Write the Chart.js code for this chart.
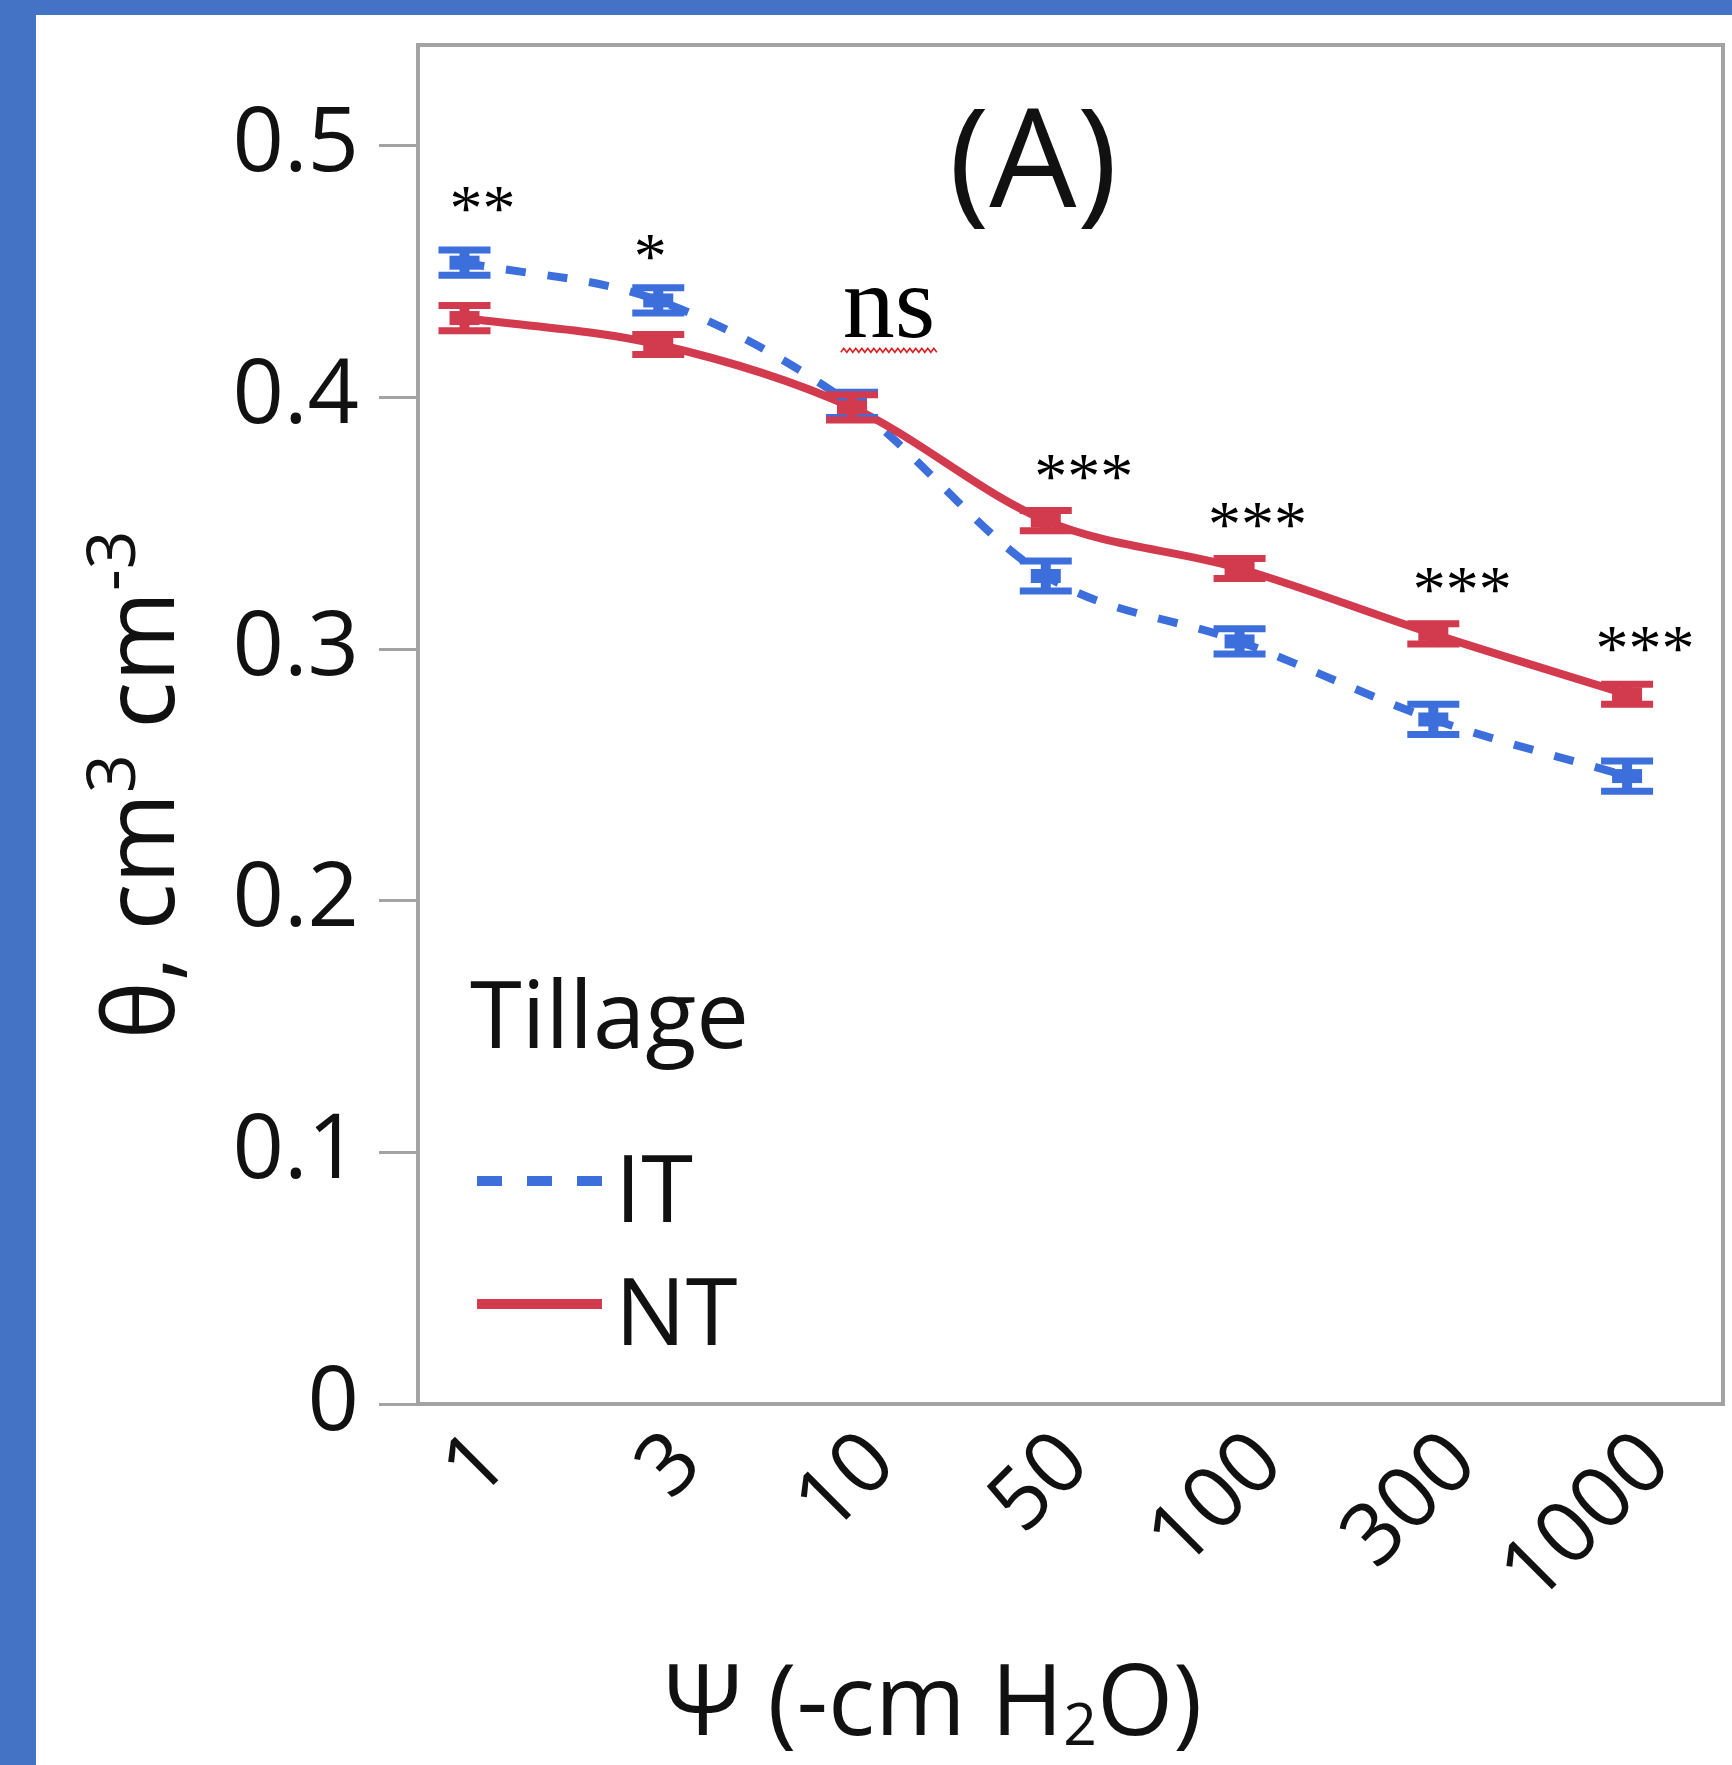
<!DOCTYPE html>
<html>
<head>
<meta charset="utf-8">
<script src="https://cdn.jsdelivr.net/npm/chart.js@4.4.1/dist/chart.umd.min.js"></script>
<style>
html, body { margin: 0; padding: 0; background: #fff; }
canvas { display: block; }
</style>
</head>
<body>
<canvas id="retentionChart" width="1732" height="1765"></canvas>
<script>
// Soil water retention by tillage (panel A)
const potentials = ['1', '3', '10', '50', '100', '300', '1000'];
const itValues = [0.4535, 0.4385, 0.397, 0.329, 0.303, 0.272, 0.2495];
const itErrors = [0.005, 0.005, 0.005, 0.006, 0.005, 0.006, 0.006];
const ntValues = [0.4315, 0.421, 0.396, 0.351, 0.332, 0.306, 0.282];
const ntErrors = [0.005, 0.004, 0.005, 0.004, 0.004, 0.004, 0.004];
const sigLabels = ['**', '*', 'ns', '***', '***', '***', '***'];
const yTicks = [0, 0.1, 0.2, 0.3, 0.4, 0.5];

const BLUE = '#3c6fdb';
const RED = '#d23a4e';
const GREY = '#a3a3a3';
const INK = '#111111';
const SANS = '"Open Sans", "Noto Sans", sans-serif';
const SERIF = '"Liberation Serif", "DejaVu Serif", serif';

// blue slide frame + plot box
const frame = {
    id: 'frame',
    beforeDraw(chart) {
        const c = chart.ctx;
        c.save();
        c.fillStyle = '#ffffff';
        c.fillRect(0, 0, chart.width, chart.height);
        c.fillStyle = '#4472c4';
        c.fillRect(0, 0, chart.width, 15);
        c.fillRect(0, 0, 36, chart.height);
        c.restore();
    },
    beforeDatasetsDraw(chart) {
        const c = chart.ctx, a = chart.chartArea;
        c.save();
        c.strokeStyle = GREY;
        c.lineWidth = 4;
        c.strokeRect(a.left, a.top, a.right - a.left, a.bottom - a.top);
        c.restore();
    }
};

// error bars, drawn from each dataset's errors array
const errorBars = {
    id: 'errorBars',
    afterDatasetsDraw(chart) {
        const c = chart.ctx, ys = chart.scales.y;
        chart.data.datasets.forEach((ds, d) => {
            const meta = chart.getDatasetMeta(d);
            c.save();
            c.strokeStyle = ds.borderColor;
            c.fillStyle = ds.borderColor;
            meta.data.forEach((pt, i) => {
                const v = ds.data[i].y, e = ds.errors[i];
                const top = ys.getPixelForValue(v + e);
                const bot = ys.getPixelForValue(v - e);
                c.lineWidth = 10;
                c.beginPath();
                c.moveTo(pt.x, top);
                c.lineTo(pt.x, bot);
                c.stroke();
                c.lineWidth = 7;
                c.beginPath();
                c.moveTo(pt.x - 26, top);
                c.lineTo(pt.x + 26, top);
                c.moveTo(pt.x - 26, bot);
                c.lineTo(pt.x + 26, bot);
                c.stroke();
                c.fillRect(pt.x - 15, pt.y - 7, 30, 14);
            });
            c.restore();
        });
    }
};

// significance marks above each pair
const sigMarks = {
    id: 'sigMarks',
    afterDatasetsDraw(chart) {
        const c = chart.ctx, xs = chart.scales.x, ys = chart.scales.y;
        const dx = [18, -8, 37, 38, 18, 29, 18];
        const lift = [51, 40, 79, 43, 43, 43, 45];
        c.save();
        c.fillStyle = '#000';
        c.textAlign = 'center';
        c.textBaseline = 'alphabetic';
        sigLabels.forEach((s, i) => {
            const hi = Math.max(itValues[i] + itErrors[i], ntValues[i] + ntErrors[i]);
            const x = xs.getPixelForValue(i) + dx[i];
            const isNs = s === 'ns';
            const cy = ys.getPixelForValue(hi) - lift[i];
            c.font = (isNs ? 104 : 66) + 'px ' + SERIF;
            const m = c.measureText(s);
            const base = cy + (m.actualBoundingBoxAscent - m.actualBoundingBoxDescent) / 2;
            c.fillText(s, x, base);
            if (isNs) {
                // spell-check squiggle under "ns"
                const w = m.width;
                c.strokeStyle = '#e02020';
                c.lineWidth = 1.6;
                c.beginPath();
                let k = 0;
                for (let px = x - w / 2 - 2; px <= x + w / 2 + 4; px += 3, k++) {
                    const py = base + 13 + (k % 2 ? -2 : 2);
                    if (k === 0) c.moveTo(px, py); else c.lineTo(px, py);
                }
                c.stroke();
            }
        });
        c.restore();
    }
};

function drawRich(c, parts, cx, by, size) {
    let w = 0;
    parts.forEach(p => {
        c.font = (size * p[1]) + 'px ' + SANS;
        w += c.measureText(p[0]).width;
    });
    let x = cx - w / 2;
    parts.forEach(p => {
        c.font = (size * p[1]) + 'px ' + SANS;
        c.fillText(p[0], x, by + p[2] * size);
        x += c.measureText(p[0]).width;
    });
}

// axis titles, panel letter, legend
const annotations = {
    id: 'annotations',
    afterDraw(chart) {
        const c = chart.ctx;
        c.save();
        c.fillStyle = INK;
        c.textAlign = 'left';
        c.textBaseline = 'alphabetic';

        c.save();
        c.translate(174, 785);
        c.rotate(-Math.PI / 2);
        drawRich(c, [['θ, cm', 1, 0], ['3', 0.69, -0.40], [' cm', 1, 0], ['-3', 0.69, -0.40]], 0, 0, 98);
        c.restore();

        drawRich(c, [['Ψ (-cm H', 1, 0], ['2', 0.6, 0.1], ['O)', 1, 0]], 933, 1735, 98);

        c.font = '138px ' + SANS;
        c.textAlign = 'center';
        c.fillText('(A)', 1033, 207);

        // legend
        c.textAlign = 'left';
        c.font = '94px ' + SANS;
        c.fillText('Tillage', 470, 1048);
        const rows = [1181, 1304];
        chart.data.datasets.forEach((ds, d) => {
            const ly = rows[d];
            c.strokeStyle = ds.borderColor;
            c.lineWidth = 10;
            c.setLineDash(ds.borderDash ? [25, 25] : []);
            c.beginPath();
            c.moveTo(477, ly);
            c.lineTo(602, ly);
            c.stroke();
            c.setLineDash([]);
            c.fillStyle = INK;
            c.fillText(ds.label, 615, ly + 41);
        });
        c.restore();
    }
};

function buildChart() {
    const ctx = document.getElementById('retentionChart').getContext('2d');
    new Chart(ctx, {
        type: 'line',
        data: {
            datasets: [{
                label: 'IT',
                data: itValues.map((v, i) => ({ x: i, y: v })),
                errors: itErrors,
                borderColor: BLUE,
                backgroundColor: BLUE,
                borderWidth: 8,
                borderDash: [20, 22],
                cubicInterpolationMode: 'monotone',
                pointRadius: 0,
                order: 2
            }, {
                label: 'NT',
                data: ntValues.map((v, i) => ({ x: i, y: v })),
                errors: ntErrors,
                borderColor: RED,
                backgroundColor: RED,
                borderWidth: 8,
                cubicInterpolationMode: 'monotone',
                pointRadius: 0,
                order: 1
            }]
        },
        options: {
            responsive: false,
            animation: false,
            layout: { padding: { top: 45, right: 9, left: 0, bottom: 0 } },
            plugins: {
                legend: { display: false },
                tooltip: { enabled: false }
            },
            scales: {
                x: {
                    type: 'linear',
                    min: -0.24,
                    max: 6.495,
                    afterBuildTicks: s => { s.ticks = potentials.map((_, i) => ({ value: i })); },
                    afterFit: s => { s.height = 361; },
                    grid: { display: false },
                    border: { display: false },
                    ticks: {
                        autoSkip: false,
                        minRotation: 45,
                        maxRotation: 45,
                        padding: 13,
                        labelOffset: 30,
                        color: INK,
                        font: { family: SANS, size: 86, lineHeight: 0.8 },
                        callback: v => potentials[v]
                    }
                },
                y: {
                    min: 0,
                    max: 0.54,
                    afterBuildTicks: s => { s.ticks = yTicks.map(v => ({ value: v })); },
                    afterFit: s => { s.width = 418; },
                    grid: { drawOnChartArea: false, drawTicks: true, tickLength: 39, color: GREY, lineWidth: 3 },
                    border: { display: false },
                    ticks: {
                        padding: 20,
                        color: INK,
                        font: { family: SANS, size: 90, lineHeight: 0.2 },
                        callback: v => String(v)
                    }
                }
            }
        },
        plugins: [frame, errorBars, sigMarks, annotations]
    });
}

Promise.all([
    document.fonts.load('90px "Open Sans"'),
    document.fonts.load('66px "Liberation Serif"')
]).then(buildChart, buildChart);
</script>
</body>
</html>
